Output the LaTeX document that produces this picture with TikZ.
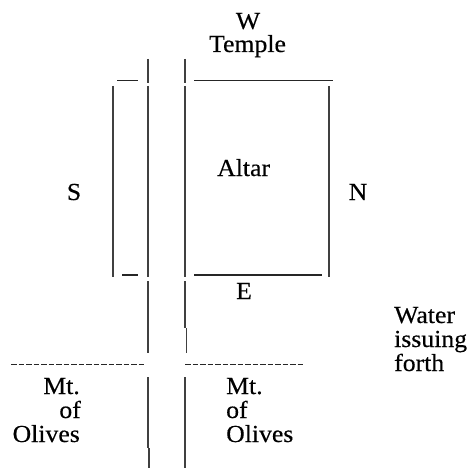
\documentclass[tikz,border=0pt]{standalone}
\usepackage{fontspec}
\setmainfont[FakeStretch=1.05,RawFeature={embolden=0.35}]{Liberation Serif}
\begin{document}
\begin{tikzpicture}[x=1pt,y=-1pt,
  lbl/.style={inner sep=0pt,font=\fontsize{24.5}{24.5}\selectfont,text=black},
  west lbl/.style={lbl,anchor=base west},
  east lbl/.style={lbl,anchor=base east},
  mid lbl/.style={lbl,anchor=base},
  rule/.style={line width=1.2pt,draw=black!75},
  hrule/.style={line width=1.1pt,draw=black!85}]
\useasboundingbox (0,0) rectangle (471,468);
\node[mid lbl] (w) at (248,29) {W};
\node[mid lbl] (temple) at (247.5,52) {Temple};
\node[west lbl] (altar) at (217,176) {Altar};
\node[mid lbl] (s) at (74,200) {S};
\node[mid lbl] (n) at (358,200) {N};
\node[mid lbl] (e) at (244,299) {E};
\node[west lbl] (water) at (394,323) {Water};
\node[west lbl] (issuing) at (394,347) {issuing};
\node[west lbl] (forth) at (394,371) {forth};
\node[east lbl] (mt1) at (80,394) {Mt.};
\node[east lbl] (of1) at (81,418) {of};
\node[east lbl] (ol1) at (80,442) {Olives};
\node[west lbl] (mt2) at (226,394) {Mt.};
\node[west lbl] (of2) at (226,418) {of};
\node[west lbl] (ol2) at (226,442) {Olives};
% horizontal strokes
\draw[hrule] (117,80.7) -- (138,80.7);
\draw[hrule] (194,80.7) -- (333,80.7);
\draw[hrule] (122,275) -- (138,275);
\draw[hrule] (194,275) -- (322,275);
% dashed ground line
\draw[hrule,dash pattern=on 5.6pt off 1.9pt] (11,364.5) -- (145,364.5);
\draw[hrule,dash pattern=on 5.6pt off 1.9pt] (185,364.5) -- (303,364.5);
% vertical strokes
\draw[rule] (113,86) -- (113,277);
\draw[rule] (329,86) -- (329,277);
\draw[rule] (148,59) -- (148,83);
\draw[rule] (185,59) -- (185,83);
\draw[rule] (148,86) -- (148,277);
\draw[rule] (185,86) -- (185,277);
\draw[rule] (148,281) -- (148,353);
\draw[rule] (185,281) -- (185,328);
\draw[rule] (186.3,328) -- (186.3,353);
\draw[rule] (148,377) -- (148,448);
\draw[rule] (149,448) -- (149,468);
\draw[rule] (185,377) -- (185,468);
\end{tikzpicture}
\end{document}
